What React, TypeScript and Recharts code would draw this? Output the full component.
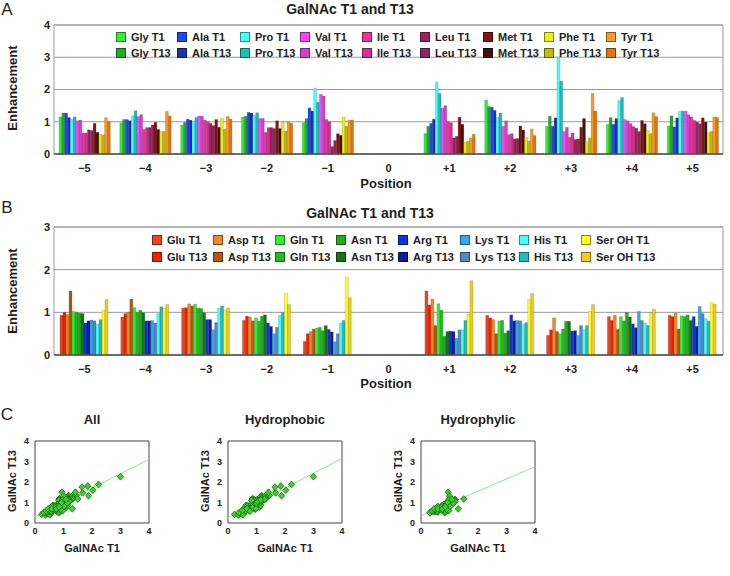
import React from 'react';
import {
  BarChart,
  Bar,
  XAxis,
  YAxis,
  CartesianGrid,
  ReferenceArea,
  ReferenceLine,
  ScatterChart,
  Scatter,
} from 'recharts';

const FONT = "'Liberation Sans', Arial, Helvetica, sans-serif";

const positions = ['−5', '−4', '−3', '−2', '−1', '0', '+1', '+2', '+3', '+4', '+5'];
const ticksA = [0, 1, 2, 3, 4];
const ticksB = [0, 1, 2, 3];
const scatterTicks = [0, 1, 2, 3, 4];

// Panel A - hydrophobic residues, enhancement per position (0 = acceptor site, no data)
const glyT1 = [1.15, 0.97, 0.9, 1.15, 0.97, null, 0.63, 1.67, 0.85, 0.92, 0.87];
const glyT13 = [1.27, 1.07, 0.98, 1.17, 1.1, null, 0.86, 1.47, 1.17, 1.13, 1.18];
const alaT1 = [1.27, 1.07, 1.08, 1.29, 1.43, null, 0.95, 1.45, 0.86, 0.92, 0.84];
const alaT13 = [1.13, 1.03, 1.05, 1.27, 1.33, null, 1.08, 1.35, 1.12, 1.1, 1.12];
const proT1 = [1.07, 1.18, 1.02, 1.19, 2.03, null, 2.23, 1.13, 3.0, 1.65, 1.32];
const proT13 = [1.15, 1.34, 1.13, 1.28, 1.6, null, 1.88, 1.27, 2.26, 1.75, 1.33];
const valT1 = [1.03, 1.16, 1.18, 1.1, 1.85, null, 1.42, 0.86, 0.7, 1.07, 1.33];
const valT13 = [1.05, 1.22, 1.17, 1.1, 1.8, null, 1.5, 1.03, 0.83, 1.03, 1.22];
const ileT1 = [0.65, 0.76, 1.05, 0.67, 1.07, null, 1.0, 0.6, 0.52, 0.94, 1.15];
const ileT13 = [0.65, 0.82, 1.0, 0.82, 1.0, null, 0.97, 0.63, 0.65, 0.85, 1.04];
const leuT1 = [0.75, 0.82, 0.95, 0.82, 0.23, null, 0.5, 0.47, 0.45, 0.8, 0.99];
const leuT13 = [0.73, 0.9, 0.88, 0.79, 0.42, null, 0.55, 0.48, 0.47, 0.7, 0.94];
const metT1 = [0.95, 0.98, 1.07, 1.03, 0.63, null, 1.14, 0.87, 0.83, 1.04, 1.12];
const metT13 = [0.67, 0.76, 0.83, 0.79, 0.58, null, 0.92, 0.74, 1.1, 0.94, 0.99];
const pheT1 = [0.62, 0.7, 1.1, 0.98, 1.14, null, 0.37, 0.52, 0.38, 0.73, 0.66];
const pheT13 = [0.58, 0.7, 0.77, 0.7, 0.86, null, 0.39, 0.4, 0.5, 0.63, 0.7];
const tyrT1 = [1.13, 1.32, 1.17, 1.0, 1.05, null, 0.5, 0.77, 1.88, 1.28, 1.15];
const tyrT13 = [1.0, 1.18, 1.08, 0.95, 1.05, null, 0.61, 0.57, 1.33, 1.16, 1.13];

// Panel B - hydrophilic residues
const gluT1 = [0.93, 0.89, 1.1, 0.81, 0.32, null, 1.5, 0.93, 0.46, 0.9, 0.93];
const gluT13 = [1.0, 0.97, 1.11, 0.91, 0.5, null, 1.17, 0.87, 0.59, 0.81, 0.9];
const aspT1 = [0.95, 1.0, 1.2, 0.89, 0.55, null, 1.31, 0.83, 0.87, 0.93, 0.98];
const aspT13 = [1.5, 1.31, 1.15, 0.8, 0.61, null, 0.69, 0.5, 0.55, 0.6, 0.61];
const glnT1 = [1.02, 1.11, 1.19, 0.87, 0.63, null, 1.2, 0.8, 0.5, 0.9, 0.92];
const glnT13 = [1.0, 1.0, 1.1, 0.79, 0.65, null, 1.05, 0.81, 0.61, 0.8, 0.9];
const asnT1 = [0.98, 1.05, 1.09, 0.91, 0.57, null, 0.44, 0.51, 0.79, 1.0, 0.94];
const asnT13 = [0.97, 0.99, 0.99, 0.94, 0.69, null, 0.55, 0.57, 0.79, 0.89, 0.81];
const argT1 = [0.75, 0.8, 0.83, 0.75, 0.6, null, 0.56, 0.94, 0.56, 0.73, 0.9];
const argT13 = [0.8, 0.8, 0.83, 0.67, 0.54, null, 0.55, 0.8, 0.57, 0.64, 0.67];
const lysT1 = [0.82, 0.81, 0.59, 0.5, 0.31, null, 0.39, 0.81, 0.46, 1.02, 1.14];
const lysT13 = [0.8, 0.75, 0.76, 0.65, 0.5, null, 0.59, 0.8, 0.69, 0.81, 0.97];
const hisT1 = [0.72, 0.97, 1.09, 0.93, 0.75, null, 0.59, 0.72, 0.59, 0.75, 0.85];
const hisT13 = [0.83, 1.13, 1.15, 1.0, 0.81, null, 0.81, 0.76, 0.69, 0.69, 0.79];
const serT1 = [1.05, 1.09, 1.04, 1.44, 1.82, null, 0.95, 1.3, 1.02, 0.98, 1.23];
const serT13 = [1.3, 1.18, 1.1, 1.18, 1.34, null, 1.74, 1.44, 1.18, 1.07, 1.19];

// regression lines: [T13 at T1=0, T13 at T1=4]
const trendAll = [0.3, 3.1];
const trendHydrophobic = [0.25, 3.15];
const trendHydrophilic = [0.35, 2.75];

type Residue = { name: string; t1: (number | null)[]; t13: (number | null)[]; c1: string; c13: string };

const hydrophobic: Residue[] = [
  { name: 'Gly', t1: glyT1, t13: glyT13, c1: '#33ee33', c13: '#22aa22' },
  { name: 'Ala', t1: alaT1, t13: alaT13, c1: '#2244ff', c13: '#1a33aa' },
  { name: 'Pro', t1: proT1, t13: proT13, c1: '#44ffff', c13: '#22bbbb' },
  { name: 'Val', t1: valT1, t13: valT13, c1: '#ff44ff', c13: '#cc44cc' },
  { name: 'Ile', t1: ileT1, t13: ileT13, c1: '#ee3399', c13: '#cc3399' },
  { name: 'Leu', t1: leuT1, t13: leuT13, c1: '#a0205a', c13: '#8a2a5c' },
  { name: 'Met', t1: metT1, t13: metT13, c1: '#881111', c13: '#441111' },
  { name: 'Phe', t1: pheT1, t13: pheT13, c1: '#eeee11', c13: '#bbbb11' },
  { name: 'Tyr', t1: tyrT1, t13: tyrT13, c1: '#ff9922', c13: '#dd7711' },
];

const hydrophilic: Residue[] = [
  { name: 'Glu', t1: gluT1, t13: gluT13, c1: '#ee4422', c13: '#ee2200' },
  { name: 'Asp', t1: aspT1, t13: aspT13, c1: '#ee8822', c13: '#b85510' },
  { name: 'Gln', t1: glnT1, t13: glnT13, c1: '#33ee33', c13: '#22bb22' },
  { name: 'Asn', t1: asnT1, t13: asnT13, c1: '#22aa22', c13: '#117711' },
  { name: 'Arg', t1: argT1, t13: argT13, c1: '#1133dd', c13: '#0b1f99' },
  { name: 'Lys', t1: lysT1, t13: lysT13, c1: '#33aaee', c13: '#5588bb' },
  { name: 'His', t1: hisT1, t13: hisT13, c1: '#44ffff', c13: '#22bbbb' },
  { name: 'Ser OH', t1: serT1, t13: serT13, c1: '#ffff22', c13: '#eecc22' },
];

const legendColsA = [116, 177, 240, 300, 362, 420, 483, 544, 606];
const legendColsB = [152, 213, 275, 336, 398, 460, 519, 581];

const makeRows = (residues: Residue[]) =>
  positions.map((pos, i) => {
    const row: Record<string, any> = { pos };
    residues.forEach((r) => {
      row[`${r.name} T1`] = r.t1[i];
      row[`${r.name} T13`] = r.t13[i];
    });
    return row;
  });

const makePairs = (residues: Residue[]) =>
  residues.flatMap((r) =>
    r.t1
      .map((v, i) => (v == null || r.t13[i] == null ? null : { x: v, y: r.t13[i] }))
      .filter((p) => p !== null)
  );

const Txt = ({ x, y, size = 12, weight = 'bold', rotate = false, children }: any) => (
  <div
    style={{
      position: 'absolute',
      left: x,
      top: y,
      transform: `translate(-50%, -50%)${rotate ? ' rotate(-90deg)' : ''}`,
      fontSize: size,
      fontWeight: weight,
      lineHeight: 1,
      whiteSpace: 'nowrap',
      color: '#1e1e1e',
    }}
  >
    {children}
  </div>
);

const TwoRowLegend = ({ residues, cols, rowY }: { residues: Residue[]; cols: number[]; rowY: number[] }) => (
  <>
    {residues.map((r, i) =>
      [
        { label: `${r.name} T1`, color: r.c1, y: rowY[0] },
        { label: `${r.name} T13`, color: r.c13, y: rowY[1] },
      ].map((it) => (
        <div
          key={it.label}
          style={{ position: 'absolute', left: cols[i], top: it.y - 6, display: 'flex', alignItems: 'center', whiteSpace: 'nowrap' }}
        >
          <span style={{ width: 8, height: 8, background: it.color, border: '1px solid rgba(0,0,0,0.45)', marginRight: 5 }} />
          <span style={{ fontSize: 11, fontWeight: 'bold', color: '#222', lineHeight: '12px' }}>{it.label}</span>
        </div>
      ))
    )}
  </>
);

const tickStyle = { fontSize: 11, fontWeight: 'bold', fill: '#222', fontFamily: FONT };

const BarPanel = ({ residues, yMax, ticks, height, marginTop, axisHeight, barSize }: any) => (
  <BarChart
    width={730}
    height={height}
    data={makeRows(residues)}
    margin={{ top: marginTop, right: 7, bottom: 0, left: 0 }}
    barGap={0}
    barSize={barSize}
  >
    <CartesianGrid vertical={false} stroke="#9a9a9a" />
    <ReferenceArea y1={0} y2={yMax} fill="none" stroke="#9a9a9a" ifOverflow="visible" />
    <XAxis
      dataKey="pos"
      interval={0}
      height={axisHeight}
      tickLine={false}
      tickMargin={4}
      axisLine={{ stroke: '#555', strokeWidth: 1.5 }}
      tick={tickStyle}
    />
    <YAxis
      domain={[0, yMax]}
      ticks={ticks}
      width={54}
      tickSize={2}
      tickMargin={2}
      tickLine={false}
      axisLine={false}
      tick={tickStyle}
    />
    {residues.flatMap((r: Residue) => [
      <Bar key={`${r.name} T1`} dataKey={`${r.name} T1`} fill={r.c1} stroke="rgba(0,0,0,0.3)" strokeWidth={0.5} isAnimationActive={false} />,
      <Bar key={`${r.name} T13`} dataKey={`${r.name} T13`} fill={r.c13} stroke="rgba(0,0,0,0.3)" strokeWidth={0.5} isAnimationActive={false} />,
    ])}
  </BarChart>
);

const renderDiamond = (p: any) => {
  const { cx, cy } = p;
  if (cx == null || cy == null) return <g />;
  return (
    <path
      d={`M${cx},${cy - 3.4}L${cx + 3.1},${cy}L${cx},${cy + 3.4}L${cx - 3.1},${cy}Z`}
      fill="#3fcf2f"
      stroke="#1a6b12"
      strokeWidth={0.8}
    />
  );
};

const scatterTick = { fontSize: 9, fontWeight: 'bold', fill: '#222', fontFamily: FONT };

const ScatterPanel = ({ left, title, points, trend }: any) => (
  <>
    <div style={{ position: 'absolute', left, top: 400 }}>
      <ScatterChart width={160} height={160} margin={{ top: 41, right: 11, bottom: 0, left: 0 }}>
        <XAxis type="number" dataKey="x" domain={[0, 4]} ticks={scatterTicks} height={37} tickSize={3} tickMargin={2} tickLine={false} axisLine={false} tick={scatterTick} />
        <YAxis type="number" dataKey="y" domain={[0, 4]} ticks={scatterTicks} width={35} tickSize={4} tickMargin={2} tickLine={false} axisLine={false} tick={scatterTick} />
        <ReferenceArea x1={0} x2={4} y1={0} y2={4} fill="none" stroke="#444" strokeOpacity={1} ifOverflow="visible" />
        <ReferenceLine segment={[{ x: 0, y: trend[0] }, { x: 4, y: trend[1] }]} stroke="#86e886" strokeWidth={1} />
        <Scatter data={points} shape={renderDiamond} isAnimationActive={false} />
      </ScatterChart>
    </div>
    <Txt x={left + 92} y={419} size={13}>{title}</Txt>
    <Txt x={left + 12} y={481} size={11} rotate>GalNAc T13</Txt>
    <Txt x={left + 92} y={548} size={11}>GalNAc T1</Txt>
  </>
);

export default function App() {
  const hydrophilicNoSer = hydrophilic.filter((r) => r.name !== 'Ser OH');
  const allPairs = makePairs([...hydrophobic, ...hydrophilicNoSer]);
  return (
    <div style={{ position: 'absolute', left: 0, top: 0, width: 730, height: 576, background: '#fff', fontFamily: FONT }}>
      {/* A */}
      <div style={{ position: 'absolute', left: 0, top: 0 }}>
        <BarPanel residues={hydrophobic} yMax={4} ticks={ticksA} height={196} marginTop={25} axisHeight={42} barSize={2.85} />
      </div>
      <Txt x={7} y={9} size={17} weight="normal">A</Txt>
      <Txt x={350} y={9} size={14}>GalNAc T1 and T13</Txt>
      <Txt x={12} y={88} size={13} rotate>Enhancement</Txt>
      <Txt x={386} y={183} size={13}>Position</Txt>
      <TwoRowLegend residues={hydrophobic} cols={legendColsA} rowY={[37, 53]} />

      {/* B */}
      <div style={{ position: 'absolute', left: 0, top: 200 }}>
        <BarPanel residues={hydrophilic} yMax={3} ticks={ticksB} height={200} marginTop={27} axisHeight={45} barSize={3} />
      </div>
      <Txt x={7} y={207} size={17} weight="normal">B</Txt>
      <Txt x={370} y={213} size={14}>GalNAc T1 and T13</Txt>
      <Txt x={12} y={291} size={13} rotate>Enhancement</Txt>
      <Txt x={386} y={383} size={13}>Position</Txt>
      <TwoRowLegend residues={hydrophilic} cols={legendColsB} rowY={[240, 257]} />

      {/* C */}
      <Txt x={7} y={414} size={17} weight="normal">C</Txt>
      <ScatterPanel left={0} title="All" points={allPairs} trend={trendAll} />
      <ScatterPanel left={193} title="Hydrophobic" points={makePairs(hydrophobic)} trend={trendHydrophobic} />
      <ScatterPanel left={386} title="Hydrophylic" points={makePairs(hydrophilicNoSer)} trend={trendHydrophilic} />
    </div>
  );
}
